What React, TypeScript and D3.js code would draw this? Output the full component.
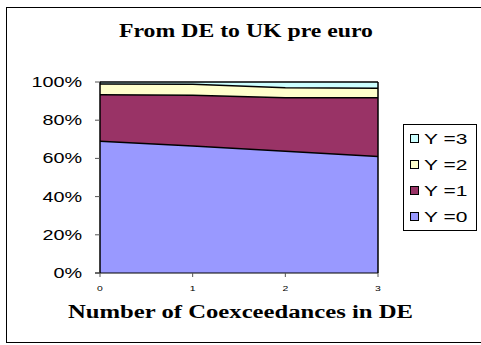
import React from "react";
import * as d3 from "d3";

const categories = [0, 1, 2, 3];
const seriesNames = ["Y=0", "Y=1", "Y=2", "Y=3"];
const y0 = [0.69, 0.665, 0.637, 0.61];
const y1 = [0.243, 0.265, 0.281, 0.307];
const y2 = [0.057, 0.058, 0.052, 0.05];
const y3 = [0.01, 0.012, 0.03, 0.033];
const colors = ["#9999FF", "#993366", "#FFFFCC", "#CCFFFF"];
const yTicks = [0, 0.2, 0.4, 0.6, 0.8, 1];

export default function App() {
  const W = 481, H = 345;
  const left = 100, right = 378, top = 82, bottom = 273;
  const x = d3.scaleLinear().domain([0, 3]).range([left, right]);
  const y = d3.scaleLinear().domain([0, 1]).range([bottom, top]);
  const rows = categories.map((c, i) => ({ c, "Y=0": y0[i], "Y=1": y1[i], "Y=2": y2[i], "Y=3": y3[i] }));
  const stack = d3.stack<any>().keys(seriesNames).offset(d3.stackOffsetExpand);
  const layers = stack(rows);
  const area = d3.area<any>().x((d) => x(d.data.c)).y0((d) => y(d[0])).y1((d) => y(d[1]));
  const line = d3.line<any>().x((d) => x(d.data.c)).y((d) => y(d[1]));
  const legendItems = [...seriesNames].reverse();
  return (
    <svg width={W} height={H} style={{ position: "absolute", left: 0, top: 0 }}>
      <rect x={0} y={0} width={W} height={H} fill="#fff" />
      <rect x={6.5} y={7.5} width={480} height={335} fill="#fff" stroke="#000" strokeWidth={1} />
      <text x={246} y={37} textAnchor="middle" fontFamily="Liberation Serif" fontWeight="bold" fontSize={18}
        textLength={254} lengthAdjust="spacingAndGlyphs">
        From DE to UK pre euro
      </text>
      {layers.map((l, i) => (
        <path key={i} d={area(l) || ""} fill={colors[i]} stroke="none" />
      ))}
      {layers.map((l, i) => (
        <path key={"l" + i} d={line(l) || ""} fill="none" stroke="#000" strokeWidth={1.5} />
      ))}
      <line x1={left} x2={left} y1={top} y2={bottom} stroke="#000" strokeWidth={1.5} />
      <line x1={right} x2={right} y1={top} y2={bottom} stroke="#000" strokeWidth={1.5} />
      <line x1={left - 5} x2={right} y1={bottom} y2={bottom} stroke="#000" strokeWidth={1} />
      {yTicks.map((t) => (
        <g key={t}>
          <line x1={left - 5} x2={left} y1={y(t)} y2={y(t)} stroke="#555" />
          <text transform={`translate(82,${y(t) + 5}) scale(1.32,1)`} textAnchor="end" fontFamily="Liberation Sans" fontSize={15}>
            {d3.format(".0%")(t)}
          </text>
        </g>
      ))}
      {categories.map((c) => (
        <g key={c}>
          <line x1={x(c)} x2={x(c)} y1={bottom} y2={bottom + 4} stroke="#555" />
          <text transform={`translate(${x(c)},291) scale(1.3,1)`} textAnchor="middle" fontFamily="Liberation Sans" fontSize={8}>
            {c}
          </text>
        </g>
      ))}
      <text x={240.5} y={318} textAnchor="middle" fontFamily="Liberation Serif" fontWeight="bold" fontSize={18}
        textLength={345} lengthAdjust="spacingAndGlyphs">
        Number of Coexceedances in DE
      </text>
      <rect x={403.5} y={124.5} width={73} height={106} fill="#fff" stroke="#000" strokeWidth={1} />
      {legendItems.map((n, i) => {
        const cy = 139 + i * 26;
        const ci = seriesNames.indexOf(n);
        return (
          <g key={n}>
            <rect x={410.5} y={cy - 4.5} width={8} height={8} fill={colors[ci]} stroke="#000" />
            <text transform={`translate(424,${cy + 5}) scale(1.4,1)`} fontFamily="Liberation Sans" fontSize={15}>
              {n.replace("=", " =")}
            </text>
          </g>
        );
      })}
    </svg>
  );
}
